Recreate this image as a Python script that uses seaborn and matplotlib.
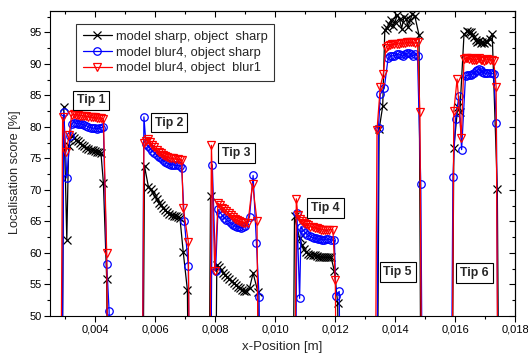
import matplotlib
matplotlib.use("Agg")
import matplotlib.pyplot as plt
import seaborn as sns
from matplotlib.ticker import MultipleLocator, FuncFormatter
from matplotlib.lines import Line2D

sns.set_theme(style="white")
plt.rcParams['font.family'] = ['Liberation Sans', 'DejaVu Sans']

# ---- data: model sharp, object sharp ----
x_sharp = [0.00286, 0.00296, 0.00306, 0.00312, 0.00322, 0.00329, 0.00336, 0.00343, 0.00350, 0.00357,
           0.00364, 0.00371, 0.00378, 0.00385, 0.00392, 0.00399, 0.00406, 0.00413, 0.00420, 0.00428,
           0.00439, 0.00449,
           0.00555, 0.00565, 0.00578, 0.00585, 0.00592, 0.00599, 0.00606, 0.00613, 0.00620, 0.00627,
           0.00634, 0.00641, 0.00648, 0.00655, 0.00662, 0.00669, 0.00676, 0.00683, 0.00694, 0.00708,
           0.00718,
           0.00775, 0.00785, 0.00796, 0.00806, 0.00813, 0.00820, 0.00827, 0.00834, 0.00841, 0.00848,
           0.00855, 0.00862, 0.00869, 0.00876, 0.00883, 0.00890, 0.00897, 0.00904, 0.00915, 0.00927,
           0.00943, 0.00953,
           0.01055, 0.01065, 0.01082, 0.01090, 0.01097, 0.01104, 0.01111, 0.01118, 0.01125, 0.01132,
           0.01139, 0.01146, 0.01153, 0.01160, 0.01167, 0.01174, 0.01181, 0.01187, 0.01198, 0.01209,
           0.01219,
           0.01337, 0.01347, 0.01359, 0.01366, 0.01373, 0.01380, 0.01386, 0.01393, 0.01400, 0.01408,
           0.01415, 0.01422, 0.01430, 0.01437, 0.01444, 0.01450, 0.01458, 0.01466, 0.01480, 0.01490,
           0.01586, 0.01596, 0.01609, 0.01616, 0.01630, 0.01641, 0.01646, 0.01652, 0.01658, 0.01663,
           0.01669, 0.01674, 0.01680, 0.01685, 0.01691, 0.01696, 0.01702, 0.01707, 0.01715, 0.01724,
           0.01741, 0.01751]
y_sharp = [0, 83.2, 62.1, 77.0, 78.6, 78.3, 78.0, 77.8, 77.4, 77.1,
           76.9, 76.6, 76.5, 76.4, 76.3, 76.2, 76.1, 76.0, 75.8, 71.1,
           55.8, 0,
           0, 73.8, 70.5, 70.2, 69.6, 69.0, 68.5, 68.0, 67.6, 67.2,
           66.8, 66.5, 66.2, 66.0, 65.9, 65.8, 65.7, 65.6, 60.2, 54.1,
           0,
           0, 69.0, 0, 58.1, 57.7, 57.3, 56.9, 56.5, 56.2, 55.8,
           55.5, 55.2, 54.9, 54.6, 54.4, 54.2, 54.0, 53.9, 54.4, 56.8,
           53.8, 0,
           0, 65.8, 62.3, 61.3, 60.6, 60.1, 59.9, 59.7, 59.7, 59.6,
           59.5, 59.4, 59.4, 59.3, 59.3, 59.3, 59.3, 59.3, 57.1, 52.0,
           0,
           0, 79.6, 83.3, 95.4, 95.7, 96.3, 96.9, 96.0, 96.7, 97.8,
           97.1, 95.6, 97.4, 97.2, 95.8, 96.9, 97.9, 97.6, 94.6, 0,
           0, 76.7, 83.1, 82.3, 94.7, 95.2, 95.1, 95.0, 94.6, 94.2,
           93.8, 93.4, 93.7, 93.3, 93.5, 93.3, 93.6, 93.4, 94.0, 94.7,
           70.1, 0]

# ---- data: model blur4, object sharp ----
x_b4s = [0.00286, 0.00296, 0.00306, 0.00317, 0.00322, 0.00329, 0.00336, 0.00343, 0.00350, 0.00357,
         0.00364, 0.00371, 0.00378, 0.00385, 0.00392, 0.00399, 0.00406, 0.00413, 0.00420, 0.00428,
         0.00439, 0.00447, 0.00457,
         0.00553, 0.00563, 0.00570, 0.00577, 0.00584, 0.00591, 0.00598, 0.00605, 0.00612, 0.00619,
         0.00626, 0.00633, 0.00640, 0.00647, 0.00654, 0.00661, 0.00668, 0.00675, 0.00682, 0.00689,
         0.00698, 0.00711, 0.00721,
         0.00781, 0.00791, 0.00802, 0.00810, 0.00817, 0.00824, 0.00831, 0.00838, 0.00845, 0.00852,
         0.00859, 0.00866, 0.00873, 0.00880, 0.00887, 0.00894, 0.00901, 0.00915, 0.00927, 0.00938,
         0.00947, 0.00957,
         0.01063, 0.01073, 0.01082, 0.01087, 0.01094, 0.01101, 0.01108, 0.01115, 0.01122, 0.01129,
         0.01136, 0.01143, 0.01150, 0.01157, 0.01164, 0.01171, 0.01178, 0.01185, 0.01198, 0.01203,
         0.01214, 0.01224,
         0.01335, 0.01345, 0.01351, 0.01364, 0.01377, 0.01384, 0.01391, 0.01398, 0.01405, 0.01412,
         0.01419, 0.01426, 0.01433, 0.01440, 0.01447, 0.01454, 0.01461, 0.01468, 0.01475, 0.01486,
         0.01496,
         0.01583, 0.01593, 0.01602, 0.01613, 0.01622, 0.01635, 0.01641, 0.01646, 0.01652, 0.01658,
         0.01663, 0.01669, 0.01674, 0.01680, 0.01685, 0.01691, 0.01696, 0.01702, 0.01707, 0.01715,
         0.01722, 0.01729, 0.01738, 0.01748]
y_b4s = [0, 82.4, 71.9, 78.5, 80.5, 80.7, 80.6, 80.5, 80.5, 80.4,
         80.3, 80.2, 80.0, 79.9, 79.8, 79.8, 79.7, 79.8, 79.9, 80.0,
         58.3, 50.8, 0,
         0, 81.6, 77.3, 77.0, 76.6, 76.2, 75.9, 75.6, 75.3, 75.0,
         74.7, 74.5, 74.3, 74.1, 74.0, 74.0, 73.9, 73.9, 73.8, 73.5,
         65.0, 58.0, 0,
         0, 74.0, 57.2, 66.9, 66.4, 66.0, 65.6, 65.3, 65.0, 64.7,
         64.5, 64.3, 64.2, 64.1, 64.0, 64.1, 64.3, 65.7, 72.3, 61.6,
         53.0, 0,
         0, 66.4, 52.8, 64.2, 63.6, 63.2, 62.9, 62.7, 62.5, 62.4,
         62.3, 62.2, 62.2, 62.1, 62.1, 62.2, 62.2, 62.1, 62.0, 53.2,
         53.9, 0,
         0, 79.9, 85.2, 86.1, 90.9, 91.2, 91.3, 91.3, 91.5, 91.6,
         91.4, 91.2, 91.5, 91.7, 91.8, 91.5, 91.3, 91.6, 91.2, 70.9,
         0,
         0, 72.1, 81.3, 84.9, 76.4, 88.1, 88.2, 88.2, 88.3, 88.4,
         88.5, 88.8, 89.0, 89.2, 89.0, 88.7, 88.6, 88.5, 88.6, 88.5,
         88.5, 88.4, 80.7, 0]

# ---- data: model blur4, object blur1 ----
x_b4b1 = [0.00282, 0.00292, 0.00303, 0.00314, 0.00322, 0.00329, 0.00336, 0.00343, 0.00350, 0.00357,
          0.00364, 0.00371, 0.00378, 0.00385, 0.00392, 0.00399, 0.00406, 0.00413, 0.00420, 0.00428,
          0.00439, 0.00449,
          0.00553, 0.00563, 0.00570, 0.00577, 0.00584, 0.00591, 0.00598, 0.00605, 0.00612, 0.00619,
          0.00626, 0.00633, 0.00640, 0.00647, 0.00654, 0.00661, 0.00668, 0.00675, 0.00682, 0.00689,
          0.00694, 0.00711, 0.00721,
          0.00778, 0.00788, 0.00799, 0.00810, 0.00817, 0.00824, 0.00831, 0.00838, 0.00845, 0.00852,
          0.00859, 0.00866, 0.00873, 0.00880, 0.00887, 0.00894, 0.00901, 0.00910, 0.00925, 0.00940,
          0.00950,
          0.01061, 0.01071, 0.01076, 0.01083, 0.01090, 0.01097, 0.01104, 0.01111, 0.01118, 0.01125,
          0.01132, 0.01139, 0.01146, 0.01153, 0.01160, 0.01167, 0.01174, 0.01181, 0.01193, 0.01201,
          0.01211,
          0.01330, 0.01340, 0.01351, 0.01361, 0.01370, 0.01377, 0.01384, 0.01391, 0.01398, 0.01405,
          0.01412, 0.01419, 0.01426, 0.01433, 0.01440, 0.01447, 0.01454, 0.01461, 0.01468, 0.01475,
          0.01483, 0.01493,
          0.01586, 0.01596, 0.01607, 0.01621, 0.01630, 0.01636, 0.01641, 0.01646, 0.01652, 0.01658,
          0.01663, 0.01669, 0.01674, 0.01680, 0.01685, 0.01691, 0.01696, 0.01702, 0.01707, 0.01715,
          0.01722, 0.01729, 0.01737, 0.01747]
y_b4b1 = [0, 81.5, 76.0, 78.7, 81.9, 82.0, 81.9, 81.9, 81.8, 81.8,
          81.7, 81.7, 81.6, 81.6, 81.5, 81.5, 81.4, 81.4, 81.4, 81.3,
          60.0, 0,
          0, 77.5, 77.8, 78.1, 77.6, 77.2, 76.8, 76.4, 76.1, 75.8,
          75.6, 75.4, 75.2, 75.1, 75.0, 75.0, 74.9, 74.9, 74.8, 74.8,
          67.1, 61.8, 0,
          0, 77.1, 57.2, 67.9, 67.6, 67.2, 66.9, 66.6, 66.3, 66.0,
          65.7, 65.4, 65.2, 65.0, 64.9, 64.8, 64.8, 64.8, 71.0, 65.1,
          0,
          0, 68.6, 66.0, 65.4, 65.0, 64.8, 64.6, 64.4, 64.2, 64.1,
          64.0, 63.9, 63.8, 63.7, 63.7, 63.6, 63.6, 63.7, 63.7, 55.7,
          0,
          0, 79.5, 86.4, 88.4, 92.6, 92.9, 93.0, 93.1, 93.1, 93.2,
          93.2, 93.3, 93.3, 93.3, 93.4, 93.4, 93.4, 93.4, 93.3, 93.4,
          82.4, 0,
          0, 82.5, 87.6, 78.3, 90.8, 90.9, 90.9, 90.8, 90.9, 90.7,
          90.6, 90.7, 90.8, 90.9, 90.7, 90.6, 90.5, 90.7, 90.8, 90.7,
          90.6, 90.5, 86.4, 0]

series_labels = ["model sharp, object  sharp", "model blur4, object sharp", "model blur4, object  blur1"]
tip_labels = ["Tip 1", "Tip 2", "Tip 3", "Tip 4", "Tip 5", "Tip 6"]
tip_x = [0.00387, 0.00647, 0.00872, 0.01168, 0.01409, 0.01665]
tip_y = [84.2, 80.7, 75.9, 67.2, 57.0, 56.8]

fig = plt.figure(figsize=(5.28, 3.59), dpi=100)
ax = fig.add_axes([0.0947, 0.1198, 0.8807, 0.8496])

styles = [
    (x_sharp, y_sharp, "black", "x", 5.2),
    (x_b4s, y_b4s, "#0000ff", "o", 5.4),
    (x_b4b1, y_b4b1, "#ff0000", "v", 5.8),
]
handles = []
for (xs, ys, col, mk, ms), lab in zip(styles, series_labels):
    sns.lineplot(x=xs, y=ys, ax=ax, color=col, marker=mk, markersize=ms,
                 markerfacecolor="none", markeredgecolor=col, markeredgewidth=0.9,
                 linewidth=0.9, estimator=None, sort=False, legend=False)
    handles.append(Line2D([], [], color=col, marker=mk, markersize=ms, markerfacecolor="none",
                          markeredgecolor=col, markeredgewidth=0.9, linewidth=0.9, label=lab))

ax.set_xlim(0.0025, 0.018)
ax.set_ylim(50, 98.4)
ax.xaxis.set_major_locator(MultipleLocator(0.002))
ax.xaxis.set_minor_locator(MultipleLocator(0.001))
ax.yaxis.set_major_locator(MultipleLocator(5))
ax.yaxis.set_minor_locator(MultipleLocator(2.5))
ax.xaxis.set_major_formatter(FuncFormatter(lambda v, p: f"{v:.3f}".replace(".", ",")))
ax.tick_params(which="both", direction="out", colors="black", labelsize=8, pad=2,
               bottom=True, left=True, top=False, right=False)
ax.tick_params(which="major", length=4, width=0.8)
ax.tick_params(which="minor", length=2.5, width=0.8)

# mirrored inward ticks on top and right
top = ax.secondary_xaxis("top")
right = ax.secondary_yaxis("right")
top.xaxis.set_major_locator(MultipleLocator(0.002))
top.xaxis.set_minor_locator(MultipleLocator(0.001))
right.yaxis.set_major_locator(MultipleLocator(5))
right.yaxis.set_minor_locator(MultipleLocator(2.5))
top.tick_params(which="both", direction="in", labeltop=False, width=0.8, colors="black")
right.tick_params(which="both", direction="in", labelright=False, width=0.8, colors="black")
for a in (top, right):
    a.tick_params(which="major", length=4)
    a.tick_params(which="minor", length=2.5)
    for s in a.spines.values():
        s.set_linewidth(0.8)
        s.set_color("black")

for s in ax.spines.values():
    s.set_color("black")
    s.set_linewidth(0.8)

ax.set_xlabel("x-Position [m]", fontsize=9.5, labelpad=5)
ax.set_ylabel("Localisation score [%]", fontsize=9.2)
ax.yaxis.set_label_coords(-0.063, 0.472)

leg = ax.legend(handles=handles, loc="upper left", bbox_to_anchor=(0.056, 0.957),
                fontsize=9.3, frameon=True, fancybox=False, edgecolor="black",
                handlelength=2.3, handletextpad=0.3, labelspacing=0.3, borderpad=0.5,
                borderaxespad=0)
leg.get_frame().set_linewidth(0.8)

for t, tx, ty in zip(tip_labels, tip_x, tip_y):
    ax.text(tx, ty, t, fontsize=8.8, fontweight="bold", ha="center", va="center",
            bbox=dict(boxstyle="square,pad=0.32", facecolor="white", edgecolor="black", linewidth=0.8))

fig.savefig("out.png", dpi=100)
